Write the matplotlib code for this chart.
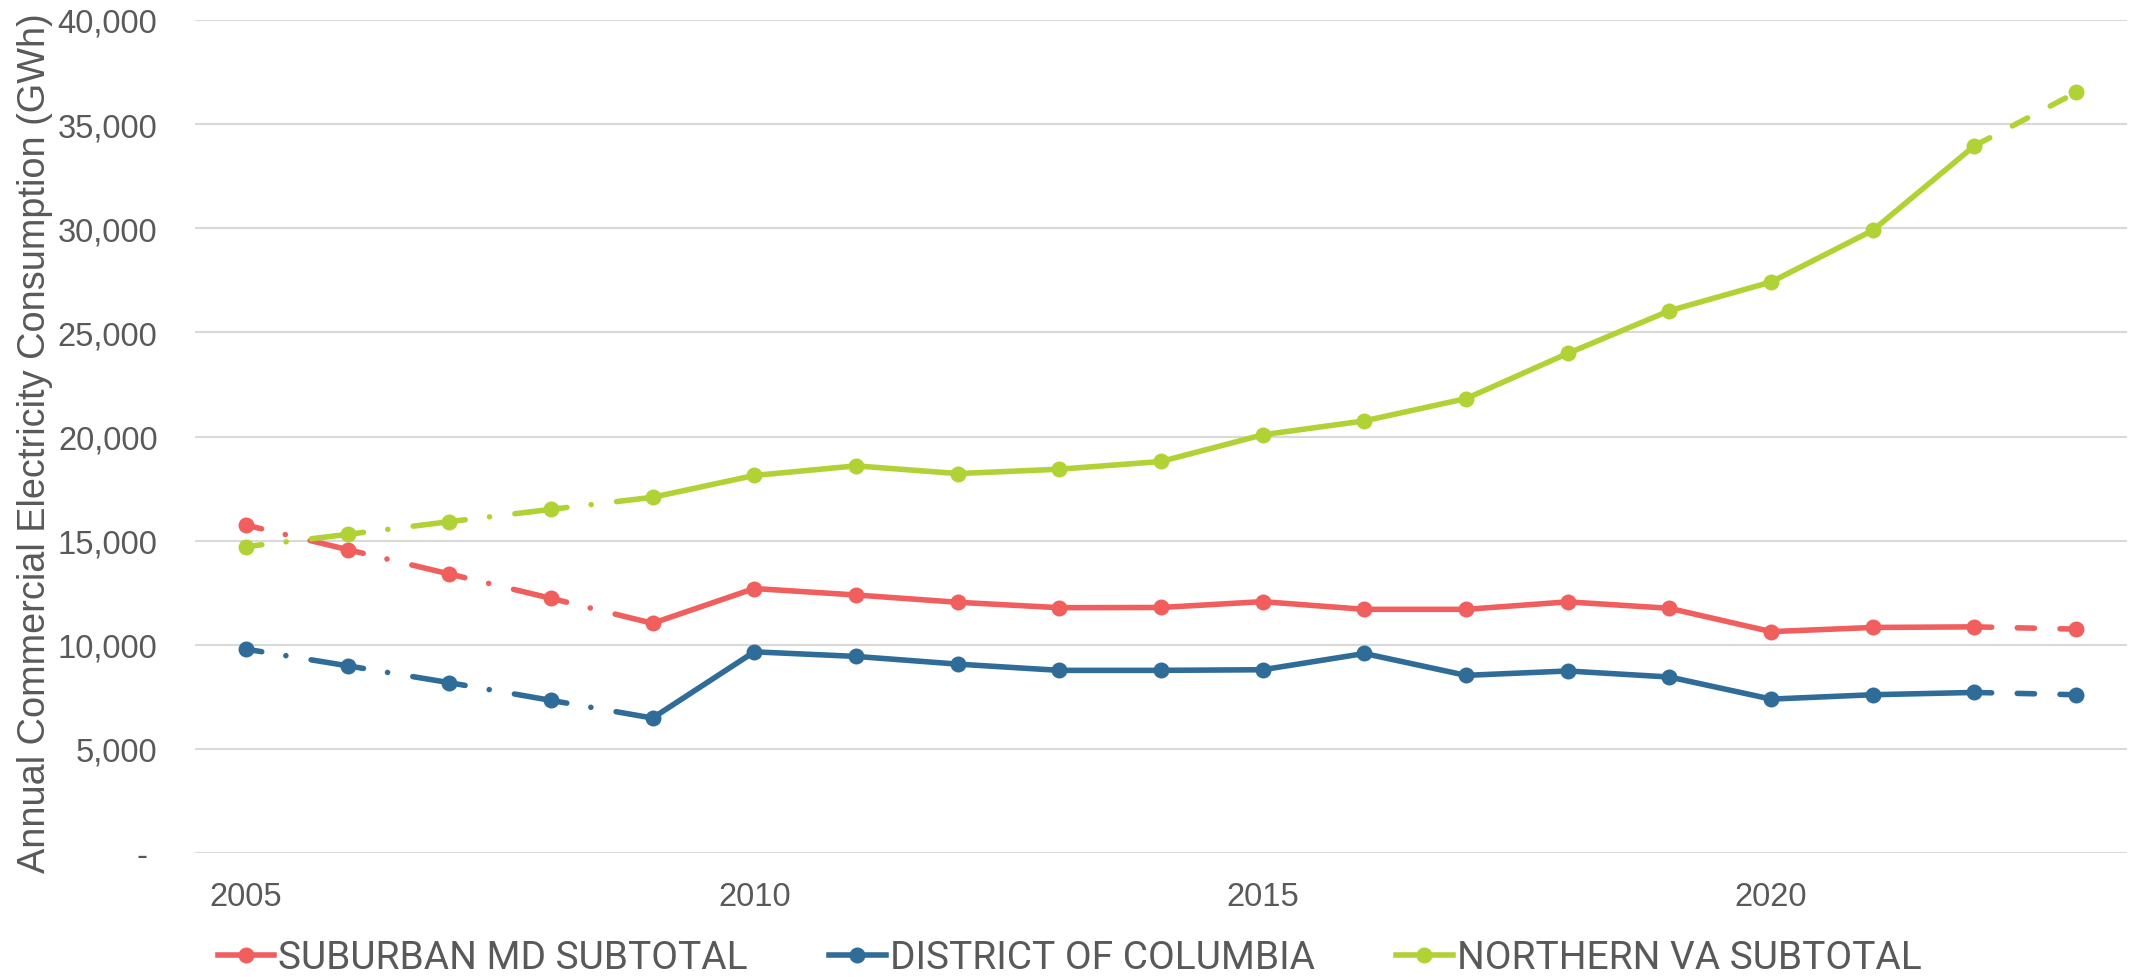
import matplotlib
matplotlib.use("Agg")
import matplotlib.pyplot as plt
from matplotlib.lines import Line2D
from matplotlib.ticker import FuncFormatter

# data (GWh)
years = list(range(2005, 2024))
suburban_md = [15750, 14570, 13400, 12230, 11030, 12700, 12390, 12040, 11780, 11790,
               12070, 11700, 11700, 12060, 11750, 10630, 10830, 10860, 10750]
district_dc = [9790, 8990, 8180, 7330, 6480, 9660, 9440, 9070, 8770, 8770,
               8800, 9580, 8530, 8740, 8450, 7390, 7600, 7710, 7600]
northern_va = [14710, 15300, 15910, 16500, 17080, 18130, 18590, 18220, 18430, 18800,
               20080, 20750, 21820, 23990, 26040, 27420, 29900, 33960, 36520]

names = ["SUBURBAN MD SUBTOTAL", "DISTRICT OF COLUMBIA", "NORTHERN VA SUBTOTAL"]
colors = ["#F15E5E", "#2F6C97", "#B1D234"]
series = [suburban_md, district_dc, northern_va]

text_col = "#595959"
plt.rcParams["font.family"] = ["Liberation Sans", "DejaVu Sans"]

fig = plt.figure(figsize=(21.39, 9.78), dpi=100)
ax = fig.add_axes([195 / 2139, 1 - 854 / 978, (2127 - 195) / 2139, (854 - 21) / 978])

lw = 4.0
ms = 11.5
dashdot = (7.3, (10.2, 4.4, 0.01, 4.6))   # restarts on every segment, like Excel
dashed = (0, (3.1, 4.6))
for vals, col in zip(series, colors):
    # estimated years 2005-2009: dash-dot
    for i in range(4):
        ax.plot(years[i:i + 2], vals[i:i + 2], color=col, lw=lw, linestyle=dashdot,
                dash_capstyle="round", zorder=3)
    # measured years
    ax.plot(years[4:18], vals[4:18], color=col, lw=lw, solid_capstyle="round",
            solid_joinstyle="round", zorder=3)
    # latest year: dashed
    ax.plot(years[17:], vals[17:], color=col, lw=lw, linestyle=dashed,
            dash_capstyle="round", zorder=3)
    ax.plot(years, vals, color=col, lw=0, marker="o", ms=ms, mew=0, zorder=4)

ax.set_xlim(2004.5, 2023.5)
ax.set_ylim(0, 40000)
ax.set_yticks(range(0, 40001, 5000))
ax.set_xticks([2005, 2010, 2015, 2020])
ax.yaxis.set_major_formatter(FuncFormatter(lambda v, p: "- " if v == 0 else f"{int(v):,}"))

ax.grid(axis="y", color="#D9D9D9", lw=1.5)
ax.set_axisbelow(True)
for s in ax.spines.values():
    s.set_visible(False)
ax.tick_params(axis="both", length=0, labelsize=23.5, colors=text_col)
ax.tick_params(axis="y", pad=27)
ax.tick_params(axis="x", pad=20)

ax.set_ylabel("Annual Commercial Electricity Consumption (GWh)", fontsize=27.3,
              color=text_col, va="center")
ax.yaxis.set_label_coords(-(195 - 35) / (2127 - 195), 0.493)

handles = [Line2D([0], [0], color=c, lw=lw, marker="o", ms=ms, mew=0) for c in colors]
fig.legend(handles, names, loc="center", bbox_to_anchor=(0.5, 19 / 978), ncol=3,
           frameon=False, handlelength=1.45, handletextpad=0.1,
           columnspacing=2.1, labelcolor=text_col,
           prop={"family": ["Roboto", "DejaVu Sans"], "size": 28})

fig.savefig("out.png", dpi=100)
